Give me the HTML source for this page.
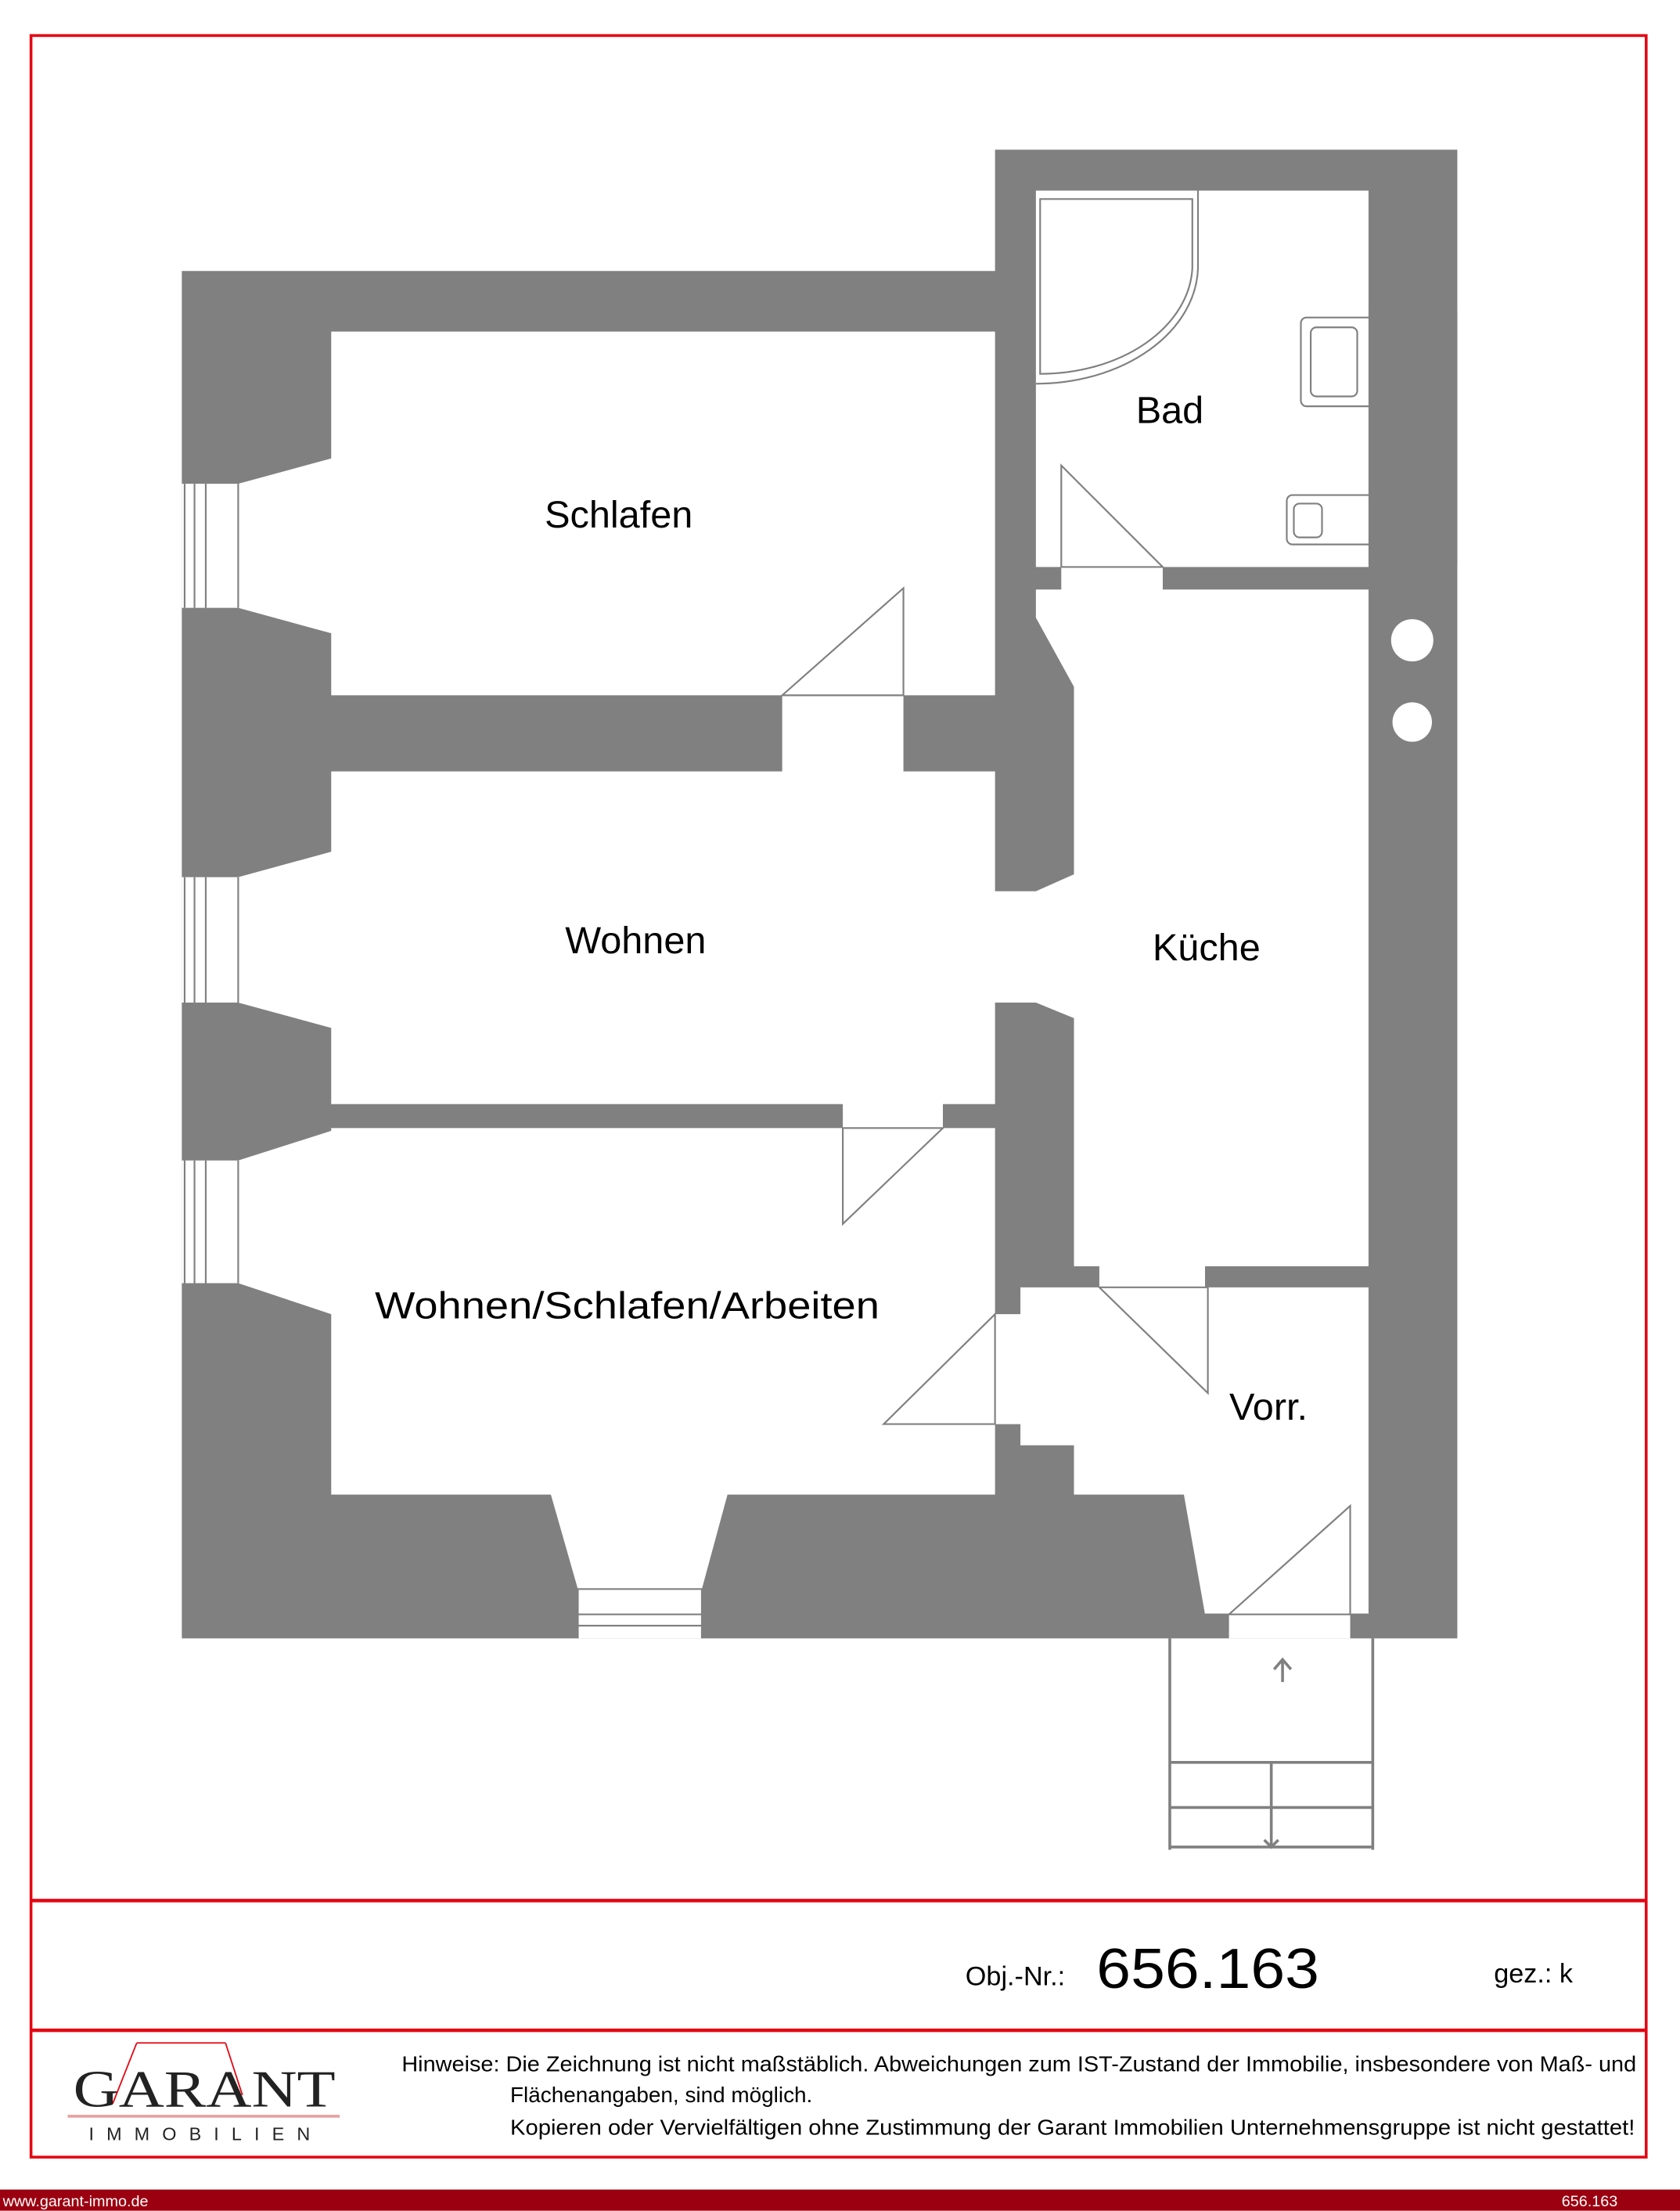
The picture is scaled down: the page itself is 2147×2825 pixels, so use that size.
<!DOCTYPE html>
<html><head><meta charset="utf-8"><style>
html,body{margin:0;padding:0;background:#fff;}
svg{display:block}
</style></head><body>
<svg width="2147" height="2825" viewBox="0 0 1192 1568" xmlns="http://www.w3.org/2000/svg" font-family="'Liberation Sans', sans-serif">
<rect width="1192" height="1568" fill="#fff"/>
<rect x="22" y="25" width="1146" height="1505" fill="none" stroke="#e30613" stroke-width="2"/>
<line x1="22" y1="1348" x2="1168" y2="1348" stroke="#e30613" stroke-width="2.5"/>
<line x1="22" y1="1440" x2="1168" y2="1440" stroke="#e30613" stroke-width="2.5"/>

<polygon points="129,192 706,192 706,106 1034,106 1034,1162 129,1162" fill="#808080"/>
<g fill="#fff">
<rect x="735" y="135" width="236" height="267"/>
<rect x="753" y="400" width="72" height="20"/>
<rect x="235" y="235" width="471" height="258"/>
<rect x="555" y="491" width="86" height="58"/>
<rect x="235" y="547" width="471" height="236"/>
<polygon points="735,418 971,418 971,898 762,898 762,722 735,711 702,711 702,632 735,632 762,620 762,487 735,438"/>
<rect x="235" y="800" width="471" height="260"/>
<rect x="598" y="781" width="71" height="21"/>
<polygon points="724,913 971,913 971,1145 855,1145 840,1060 762,1060 762,1025 724,1025 724,1010 704,1010 704,932 724,932"/>
<rect x="780" y="896" width="75" height="19"/>
<rect x="872" y="1143" width="86" height="19"/>
<polygon points="129,343 169,343 235,325 238,325 238,449 235,449 169,431 129,431"/>
<polygon points="129,622 169,622 235,604 238,604 238,729 235,729 169,711 129,711"/>
<polygon points="129,823 169,823 235,802 238,802 238,932 235,932 169,910 129,910"/>
<polygon points="390,1057 517,1057 498,1127 410,1127"/>
<rect x="410" y="1127" width="88" height="35"/>
<circle cx="1002" cy="454" r="15"/>
<circle cx="1002" cy="512" r="14"/>
</g>
<g stroke="#808080" stroke-width="1.2" fill="none">
<path d="M131,343V431M138,343V431M146,343V431M169,343V431"/>
<path d="M131,622V711M138,622V711M146,622V711M169,622V711"/>
<path d="M131,823V910M138,823V910M146,823V910M169,823V910"/>
<path d="M410,1127H498M410,1145H498M410,1153H498M410,1127V1162M498,1127V1162"/>
<path d="M753,330V402H825Z"/>
<path d="M641,417V493H555Z"/>
<path d="M598,868V800H669Z"/>
<path d="M780,913H857V988Z"/>
<path d="M706,932V1010H627Z"/>
<path d="M958,1068V1145H872Z M855,1145H971"/>
<path d="M738,141H846V190A108,78 0 0 1 738,265Z"/>
<path d="M850,135V190A115,84 0 0 1 735,272"/>
<rect x="923" y="225" width="55" height="63" rx="4"/>
<rect x="930" y="232" width="33" height="49" rx="4"/>
<rect x="913" y="351" width="65" height="35" rx="4"/>
<rect x="918" y="357" width="20" height="24" rx="4"/>
</g>
<rect x="971" y="220" width="63" height="180" fill="#808080"/>
<g stroke="#808080" stroke-width="2" fill="none">
<path d="M830,1162V1312M974,1162V1312M830,1250H974M830,1282H974M830,1310H974M902,1250V1310"/>
<path d="M897,1305L902,1310L907,1305"/>
<path d="M910,1193V1177M904,1184L910,1177L916,1184"/>
</g>

<g font-size="27" fill="#000" text-anchor="middle" font-family="'Liberation Sans', sans-serif">
<text x="830" y="300">Bad</text>
<text x="439" y="374">Schlafen</text>
<text x="451" y="676">Wohnen</text>
<text x="856" y="681">Küche</text>
<text x="445" y="935" textLength="358" lengthAdjust="spacingAndGlyphs">Wohnen/Schlafen/Arbeiten</text>
<text x="900" y="1007">Vorr.</text>
</g>

<text x="685" y="1408" font-size="19" fill="#000">Obj.-Nr.:</text>
<text x="778" y="1410" font-size="40" fill="#000" textLength="158" lengthAdjust="spacingAndGlyphs">656.163</text>
<text x="1060" y="1406" font-size="19" fill="#000">gez.: k</text>

<g font-size="15.5" fill="#000">
<text x="285" y="1469" textLength="876" lengthAdjust="spacingAndGlyphs">Hinweise: Die Zeichnung ist nicht maßstäblich. Abweichungen zum IST-Zustand der Immobilie, insbesondere von Maß- und</text>
<text x="362" y="1491">Flächenangaben, sind möglich.</text>
<text x="362" y="1514" textLength="798" lengthAdjust="spacingAndGlyphs">Kopieren oder Vervielfältigen ohne Zustimmung der Garant Immobilien Unternehmensgruppe ist nicht gestattet!</text>
</g>

<g stroke="#e30613" stroke-width="1" fill="none">
<path d="M97,1449H160M97,1449L80,1492M160,1449L172,1486"/>
</g>
<text x="52" y="1494" font-size="37" fill="#222" font-family="'Liberation Serif', serif" textLength="186" lengthAdjust="spacingAndGlyphs">GARANT</text>
<line x1="48" y1="1501" x2="241" y2="1501" stroke="#e8a0a0" stroke-width="2"/>
<text x="63" y="1518" font-size="13" fill="#222" textLength="157" lengthAdjust="spacing">IMMOBILIEN</text>

<rect x="0" y="1553" width="1192" height="15" fill="#9b0010"/>
<text x="2" y="1565" font-size="11" fill="#fff">www.garant-immo.de</text>
<text x="1108" y="1565" font-size="11" fill="#fff">656.163</text>
</svg>
</body></html>
